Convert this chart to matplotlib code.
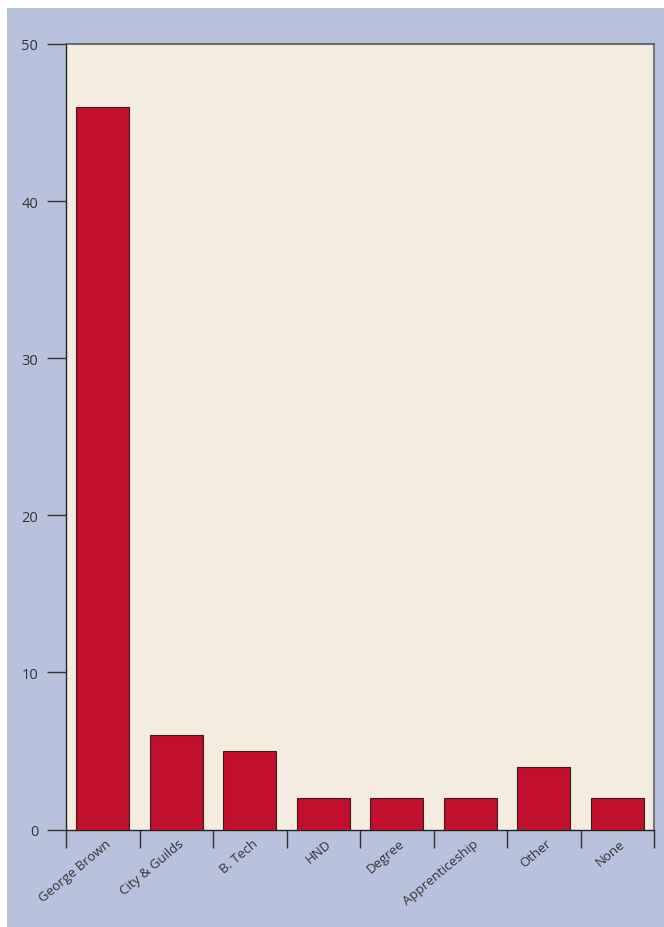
import matplotlib.pyplot as plt
from matplotlib.patches import Rectangle
from matplotlib.transforms import ScaledTranslation
import numpy as np

# данные
categories = ['George Brown', 'City & Guilds', 'B. Tech', 'HND', 'Degree',
              'Apprenticeship', 'Other', 'None']
values = [46, 6, 5, 2, 2, 2, 4, 2]
y_ticks = [0, 10, 20, 30, 40, 50]

plt.rcParams['font.family'] = ['Open Sans', 'DejaVu Sans']

fig = plt.figure(figsize=(6.64, 9.28), dpi=100, facecolor='white')
# голубая подложка
fig.patches.append(Rectangle((7 / 664, 0), 1 - 7 / 664, 1 - 9 / 928,
                             transform=fig.transFigure, facecolor='#b8c2dc',
                             edgecolor='none', zorder=-5))

ax = fig.add_axes([66 / 664, 1 - 830.5 / 928, 588 / 664, 785.5 / 928])
ax.set_facecolor('#f4ece1')

x = np.arange(len(categories))
ax.bar(x, values, width=0.72, color='#c0102e', edgecolor='#3a1a1a',
       linewidth=0.8, zorder=3)

ax.set_xlim(-0.5, len(categories) - 0.5)
ax.set_ylim(0, 50)
ax.set_yticks(y_ticks)
ax.tick_params(axis='y', length=14, width=1, color='#333333', pad=6,
               labelsize=10.5, labelcolor='#333333')

# подписи по центру, засечки на границах
ax.set_xticks(x)
ax.set_xticklabels(categories, rotation=40, ha='right', rotation_mode='anchor',
                   fontsize=9.5, color='#333333')
ax.tick_params(axis='x', which='major', length=0, pad=5)
shift = ScaledTranslation(2 / 100, 0, fig.dpi_scale_trans)
for lbl in ax.get_xticklabels():
    lbl.set_transform(lbl.get_transform() + shift)
ax.set_xticks(np.arange(len(categories) + 1) - 0.5, minor=True)
ax.tick_params(axis='x', which='minor', length=13, width=1, color='#333333')

for s in ['left', 'bottom']:
    ax.spines[s].set_color('#222222')
    ax.spines[s].set_linewidth(1)
ax.spines['top'].set_color('#555555')
ax.spines['top'].set_linewidth(1.2)
ax.spines['right'].set_color('#777777')
ax.spines['right'].set_linewidth(1.5)

fig.savefig('out.png', dpi=100, facecolor='white')
